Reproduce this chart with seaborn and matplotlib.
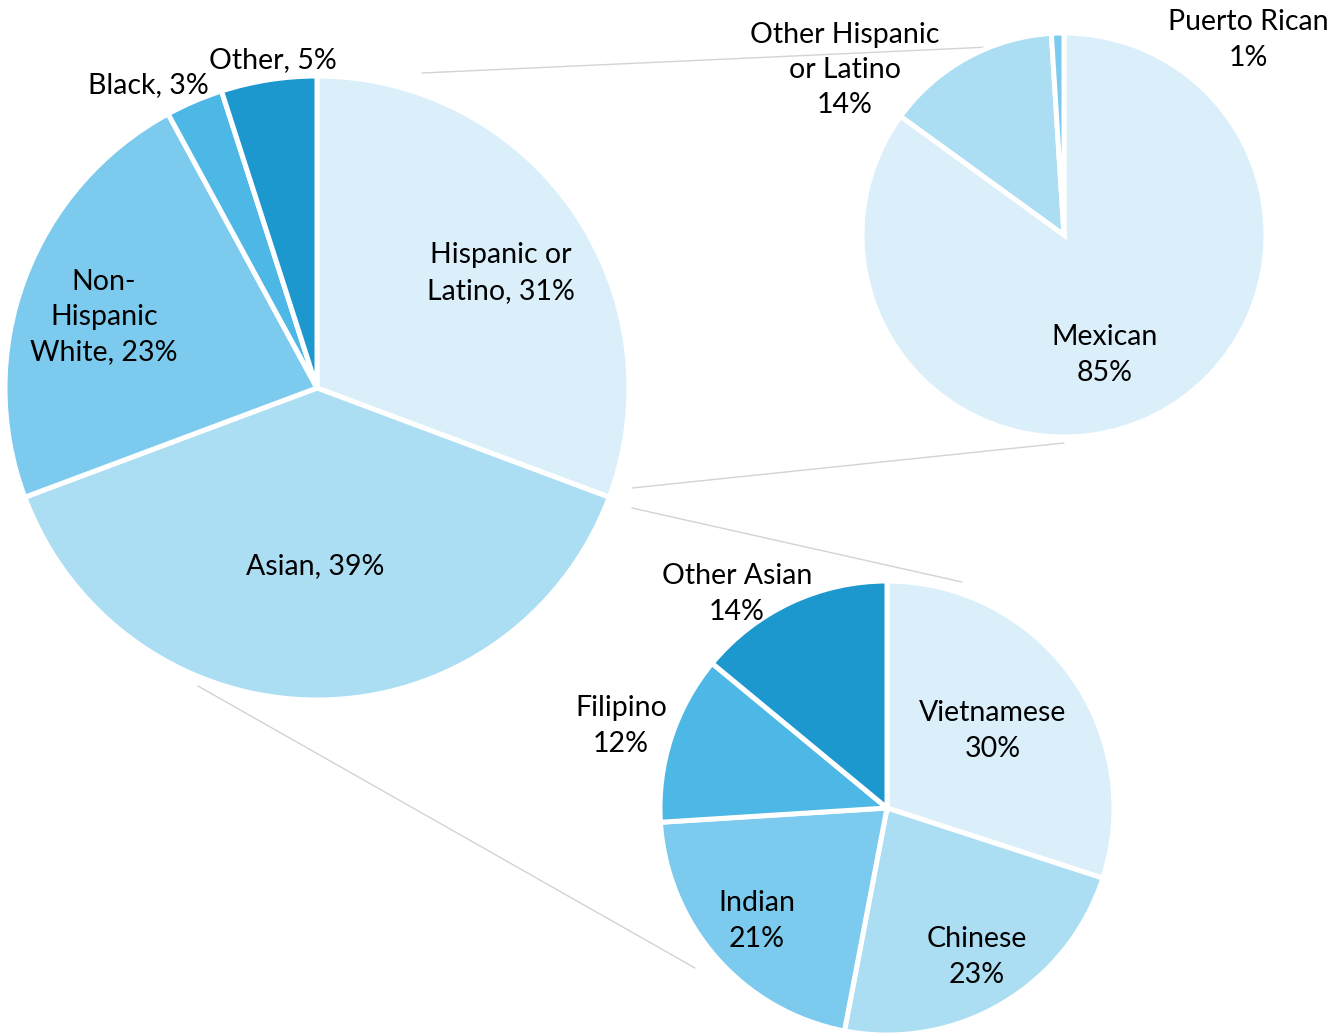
import matplotlib
matplotlib.use("Agg")
import matplotlib.pyplot as plt
import seaborn as sns

# Data
main_labels = ["Hispanic or\nLatino, 31%", "Asian, 39%", "Non-\nHispanic\nWhite, 23%", "Black, 3%", "Other, 5%"]
main_values = [31, 39, 23, 3, 5]

hisp_labels = ["Mexican\n85%", "Other Hispanic\nor Latino\n14%", "Puerto Rican\n1%"]
hisp_values = [85, 14, 1]

asian_labels = ["Vietnamese\n30%", "Chinese\n23%", "Indian\n21%", "Filipino\n12%", "Other Asian\n14%"]
asian_values = [30, 23, 21, 12, 14]

sns.set_style("white")
plt.rcParams["font.family"] = ["Lato", "DejaVu Sans"]

blues = ["#DAEFFA", "#ABDEF3", "#7CCAEE", "#4DB7E5", "#1C98CE"]

W, H = 1337, 1036
fig = plt.figure(figsize=(W / 100, H / 100), dpi=100)
ax = fig.add_axes([0, 0, 1, 1])


def py(y):
    # reference pixel rows -> data y
    return H - y


# connector lines between the pies
conn = [((422, 73), (990, 47)), ((632, 488), (1064, 443)),
        ((632, 508), (962, 582)), ((198, 686), (695, 968))]
for (x0, y0), (x1, y1) in conn:
    ax.plot([x0, x1], [py(y0), py(y1)], color="#D3D3D3", lw=1, zorder=0)

wedge_kw = dict(edgecolor="white", linewidth=3.6)

# main pie
ax.pie(main_values, colors=blues, startangle=90, counterclock=False,
       center=(317, py(388)), radius=312, wedgeprops=wedge_kw, frame=True)
# hispanic breakdown
ax.pie(hisp_values, colors=blues[:3], startangle=90, counterclock=False,
       center=(1064, py(235)), radius=202, wedgeprops=wedge_kw, frame=True)
# asian breakdown
ax.pie(asian_values, colors=blues, startangle=90, counterclock=False,
       center=(887, py(808)), radius=227, wedgeprops=wedge_kw, frame=True)

ax.set_xlim(0, W)
ax.set_ylim(0, H)
ax.set_aspect("equal")
ax.axis("off")

# label positions (centre of text block)
main_pos = [(501, 273), (315, 566), (104, 317), (148, 85), (273, 60)]
hisp_pos = [(1105, 355), (845, 70), (1248, 40)]
asian_pos = [(993, 731), (977, 957), (757, 921), (621, 726), (737, 594)]

for labels, pos in [(main_labels, main_pos), (hisp_labels, hisp_pos), (asian_labels, asian_pos)]:
    for lab, (x, y) in zip(labels, pos):
        ax.text(x, py(y), lab, ha="center", va="center", fontsize=20.5,
                linespacing=1.45, color="black")

fig.savefig("out.png", dpi=100)
